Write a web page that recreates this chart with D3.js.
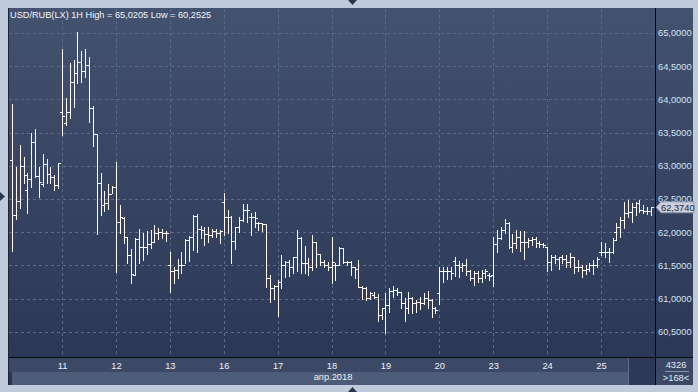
<!DOCTYPE html>
<html><head><meta charset="utf-8">
<script src="https://cdn.jsdelivr.net/npm/d3@7"></script>
<style>body{margin:0;background:#bfcbdb}svg{display:block}</style>
</head><body>
<svg id="c" width="698" height="392"></svg>
<script>
const titleText = "USD/RUB(LX) 1H High = 65,0205 Low = 60,2525";
const monthLabel = "апр.2018";
const lastPrice = 62.374;
const barCountText = "4326";
const visibleText = ">168<";
const dayStarts = [13,27,41,55,69,83,97,111,125,139,153];
const dayLabels = ["11","12","13","16","17","18","19","20","23","24","25"];
const yTicks = [60.5,61,61.5,62,62.5,63,63.5,64,64.5,65];

const opens = [63.09,62.26,62.47,63.00,62.64,62.80,63.36,62.84,62.73,63.03,
62.87,62.83,62.71,63.81,63.64,63.81,64.26,64.40,64.56,64.43,
64.52,63.87,63.48,62.74,62.41,62.44,62.58,62.68,62.16,62.22,
61.93,61.66,61.36,61.90,61.78,61.78,61.82,61.85,61.99,62.00,
61.99,61.50,61.41,61.43,61.50,61.51,61.88,61.93,62.25,62.05,
62.03,61.97,61.96,62.02,61.99,62.46,62.23,62.23,61.87,62.08,
62.19,62.33,62.23,62.23,62.14,62.14,62.13,61.31,61.16,61.19,
61.25,61.51,61.55,61.48,61.63,61.91,61.54,61.54,61.47,61.85,
61.67,61.55,61.51,61.48,61.51,61.51,61.76,61.55,61.55,61.47,
61.45,61.18,61.16,61.01,61.05,61.02,60.75,60.86,60.90,61.12,
61.13,61.10,60.93,60.86,61.01,60.93,60.95,60.93,61.01,60.98,
60.86,61.09,61.41,61.41,61.41,61.56,61.51,61.48,61.51,61.41,
61.31,61.39,61.31,61.39,61.36,61.36,61.82,61.91,62.03,62.14,
61.78,61.84,61.93,61.85,61.85,61.88,61.90,61.84,61.82,61.78,
61.55,61.63,61.60,61.63,61.60,61.55,61.62,61.48,61.47,61.43,
61.45,61.51,61.51,61.70,61.70,61.70,61.70,62.00,62.08,62.19,
62.29,62.31,62.38,62.44,62.33,62.32,62.32];

const highs = [63.93,62.98,63.31,63.13,62.89,63.49,63.55,62.98,63.18,63.10,
62.98,62.86,63.04,64.76,64.02,64.55,64.59,65.02,64.73,64.76,
64.64,63.90,63.48,62.89,62.62,62.73,62.70,63.06,62.41,62.23,
61.93,61.75,61.91,62.05,61.99,62.02,62.03,62.11,62.06,62.05,
62.02,61.70,61.47,61.60,61.70,61.90,61.94,62.26,62.28,62.09,
62.08,62.08,62.05,62.05,62.03,62.59,62.33,62.25,62.08,62.23,
62.43,62.43,62.29,62.31,62.16,62.14,62.13,61.36,61.21,61.28,
61.66,61.57,61.58,61.63,62.03,61.93,61.79,61.61,61.96,61.85,
61.67,61.58,61.55,61.93,61.54,61.78,61.76,61.57,61.57,61.48,
61.58,61.19,61.18,61.10,61.10,61.07,60.86,61.09,61.16,61.19,
61.16,61.10,61.01,61.10,61.02,60.98,61.02,61.09,61.12,60.99,
60.87,61.47,61.47,61.48,61.47,61.62,61.56,61.54,61.60,61.43,
61.41,61.41,61.43,61.45,61.39,61.93,62.03,62.08,62.20,62.16,
61.97,62.03,62.02,62.02,61.91,61.93,61.93,61.87,61.84,61.78,
61.66,61.66,61.63,61.66,61.66,61.69,61.62,61.58,61.51,61.51,
61.54,61.58,61.62,61.85,61.84,61.76,61.91,62.14,62.23,62.46,
62.49,62.44,62.46,62.49,62.41,62.38,62.38];

const lows = [61.72,62.20,62.37,62.74,62.29,62.68,62.83,62.53,62.70,62.74,
62.74,62.64,62.67,63.46,63.61,63.72,63.88,64.25,64.26,64.34,
63.66,63.30,61.97,62.26,62.32,62.35,62.59,61.40,61.99,61.84,
61.54,61.24,61.36,61.53,61.58,61.67,61.76,61.85,61.90,61.91,
61.87,61.10,61.24,61.31,61.39,61.53,61.57,61.73,61.70,61.91,
61.81,61.85,61.93,61.93,61.84,61.96,61.99,61.54,61.75,62.00,
62.17,62.16,61.96,62.08,62.03,62.02,61.18,60.95,60.99,60.74,
61.16,61.33,61.34,61.39,61.41,61.39,61.39,61.36,61.43,61.48,
61.50,61.47,61.43,61.24,61.28,61.51,61.54,61.51,61.36,61.31,
61.18,60.99,60.98,60.99,61.01,60.66,60.69,60.48,60.80,61.02,
61.05,60.86,60.66,60.78,60.78,60.80,60.84,60.92,60.86,60.72,
60.78,60.92,61.25,61.30,61.30,61.34,61.33,61.41,61.36,61.28,
61.21,61.25,61.25,61.31,61.28,61.19,61.70,61.90,61.99,61.76,
61.70,61.76,61.72,61.60,61.78,61.81,61.78,61.78,61.78,61.42,
61.43,61.54,61.45,61.54,61.48,61.47,61.39,61.41,61.33,61.37,
61.41,61.37,61.47,61.66,61.62,61.55,61.69,61.88,61.93,62.06,
62.23,62.16,62.26,62.31,62.29,62.28,62.26];

const closes = [62.26,62.47,63.00,62.86,62.80,63.36,62.84,62.76,63.03,62.87,
62.83,62.71,63.04,63.75,63.81,64.26,64.40,64.56,64.43,64.52,
63.87,63.48,62.74,62.41,62.44,62.58,62.68,62.16,62.23,61.93,
61.66,61.37,61.90,61.78,61.78,61.82,61.85,61.99,62.00,61.99,
61.99,61.41,61.43,61.50,61.51,61.88,61.93,62.25,62.05,62.03,
61.97,61.96,62.02,61.99,62.02,62.23,62.23,61.87,62.08,62.19,
62.33,62.33,62.23,62.22,62.14,62.13,61.31,61.16,61.19,61.25,
61.51,61.55,61.48,61.63,61.91,61.54,61.54,61.47,61.85,61.67,
61.55,61.51,61.48,61.55,61.51,61.76,61.55,61.55,61.47,61.45,
61.18,61.16,61.01,61.09,61.02,60.75,60.86,60.90,61.12,61.13,
61.10,60.93,60.86,61.01,60.93,60.95,60.93,61.01,60.98,60.86,
60.83,61.41,61.41,61.41,61.39,61.51,61.48,61.51,61.41,61.31,
61.39,61.31,61.39,61.41,61.34,61.82,61.91,62.03,62.14,61.78,
61.84,61.93,61.85,61.85,61.88,61.90,61.84,61.82,61.81,61.55,
61.63,61.60,61.63,61.60,61.55,61.63,61.48,61.47,61.43,61.45,
61.51,61.51,61.60,61.70,61.70,61.70,61.88,62.08,62.19,62.29,
62.31,62.38,62.44,62.33,62.32,62.32,62.374];

const W = 698, H = 392;
const FONT = "'Liberation Sans', Arial, sans-serif";
const svg = d3.select('#c');
const defs = svg.append('defs');
const grad = defs.append('linearGradient').attr('id','bg').attr('x1',0).attr('y1',0).attr('x2',0).attr('y2',1);
grad.append('stop').attr('offset','0%').attr('stop-color','#43526f');
grad.append('stop').attr('offset','100%').attr('stop-color','#293554');

// outer frame
svg.append('rect').attr('width',W).attr('height',H).attr('fill','#bfcbdb');
svg.append('rect').attr('x',8).attr('y',8).attr('width',685).attr('height',377).attr('fill','url(#bg)');

const n = closes.length;
const x = d3.scaleLinear().domain([0, n-1]).range([12, 651]);
const y = d3.scaleLinear().domain([60.5, 65]).range([331.8, 33]);
const cr = v => Math.round(v) + 0.5;

// grid
const grid = svg.append('g').attr('stroke','#5a6a89').attr('stroke-dasharray','3,3').attr('stroke-width',1);
grid.selectAll('line.h').data(yTicks).join('line').attr('class','h')
  .attr('x1',9).attr('x2',655).attr('y1',d=>cr(y(d))).attr('y2',d=>cr(y(d)));
grid.selectAll('line.v').data(dayStarts).join('line').attr('class','v')
  .attr('x1',d=>cr(x(d))).attr('x2',d=>cr(x(d))).attr('y1',9).attr('y2',357);

// OHLC bars
const idx = d3.range(n);
const bars = svg.append('g').attr('stroke','#fffaf5').attr('stroke-width',1);
bars.selectAll('line.hl').data(idx).join('line').attr('class','hl')
  .attr('x1',i=>cr(x(i))).attr('x2',i=>cr(x(i)))
  .attr('y1',i=>Math.round(y(highs[i]))).attr('y2',i=>Math.round(y(lows[i]))+1);
bars.selectAll('line.o').data(idx).join('line').attr('class','o')
  .attr('x1',i=>Math.round(x(i))-2).attr('x2',i=>Math.round(x(i)))
  .attr('y1',i=>cr(y(opens[i]))).attr('y2',i=>cr(y(opens[i])));
bars.selectAll('line.c').data(idx).join('line').attr('class','c')
  .attr('x1',i=>Math.round(x(i))+1).attr('x2',i=>Math.round(x(i))+3)
  .attr('y1',i=>cr(y(closes[i]))).attr('y2',i=>cr(y(closes[i])));

// bottom axis bands
svg.append('rect').attr('x',9).attr('y',358).attr('width',619).attr('height',14).attr('fill','#3b4966');
svg.append('rect').attr('x',12).attr('y',372).attr('width',616).attr('height',13).attr('fill','#4d5c79');
svg.append('rect').attr('x',629).attr('y',358).attr('width',26).attr('height',27).attr('fill','#2d3956');
svg.append('line').attr('x1',628.5).attr('x2',628.5).attr('y1',358).attr('y2',385).attr('stroke','#5c6b88');
svg.append('rect').attr('x',656).attr('y',358).attr('width',37).attr('height',27).attr('fill','#3a4865');

// separators
svg.append('line').attr('x1',8).attr('x2',693).attr('y1',357.5).attr('y2',357.5).attr('stroke','#05070c');
svg.append('line').attr('x1',655.5).attr('x2',655.5).attr('y1',8).attr('y2',385).attr('stroke','#05070c');
svg.append('line').attr('x1',8.5).attr('x2',8.5).attr('y1',8).attr('y2',385).attr('stroke','#1c2436');

// y axis
const yAxis = svg.append('g').attr('transform','translate(657,0)')
  .call(d3.axisRight(y).tickValues(yTicks).tickSize(0).tickPadding(1)
    .tickFormat(d => d3.format('.4f')(d).replace('.', ',')));
yAxis.select('.domain').remove();
yAxis.selectAll('text').attr('fill','#d4e2f4').style('font-family',FONT).style('font-size','9.3px');

// x axis
const xAxis = svg.append('g').attr('transform','translate(0,357)')
  .call(d3.axisBottom(x).tickValues(dayStarts).tickSize(0).tickPadding(5)
    .tickFormat((d,i) => dayLabels[i]));
xAxis.select('.domain').remove();
xAxis.selectAll('text').attr('fill','#eef2f8').style('font-family',FONT).style('font-size','9.3px');

svg.append('text').attr('x',333).attr('y',380).attr('text-anchor','middle')
  .attr('fill','#eef2f8').style('font-family',FONT).style('font-size','9.3px').text(monthLabel);

// bottom-right cell
svg.append('text').attr('x',676).attr('y',368).attr('text-anchor','middle')
  .attr('fill','#e4ebf5').style('font-family',FONT).style('font-size','9.3px').text(barCountText);
svg.append('line').attr('x1',665).attr('x2',689).attr('y1',371.5).attr('y2',371.5).attr('stroke','#8796b0');
svg.append('text').attr('x',676).attr('y',381).attr('text-anchor','middle')
  .attr('fill','#e4ebf5').style('font-family',FONT).style('font-size','9.3px').text(visibleText);

// last price label
const ly = y(lastPrice);
svg.append('path')
  .attr('d', `M656,${ly} L661,${ly-5.5} L694,${ly-5.5} L694,${ly+5.5} L661,${ly+5.5} Z`)
  .attr('fill','#c9d0db').attr('stroke','#8391a8').attr('stroke-width',0.8);
svg.append('text').attr('x',661).attr('y',ly).attr('dy','0.35em')
  .attr('fill','#1d2a45').style('font-family',FONT).style('font-size','9.3px')
  .text(d3.format('.4f')(lastPrice).replace('.', ','));

// title
svg.append('text').attr('x',10).attr('y',18).attr('fill','#f2f5fa')
  .style('font-family',FONT).style('font-size','9.2px').text(titleText);

// markers
svg.append('path').attr('d','M348,0 L357,0 L352.5,5 Z').attr('fill','#2a3550');
svg.append('path').attr('d','M348,392 L357,392 L352.5,387 Z').attr('fill','#2a3550');
svg.append('path').attr('d','M0,192 L0,201 L5,196.5 Z').attr('fill','#2a3550');
</script>
</body></html>
